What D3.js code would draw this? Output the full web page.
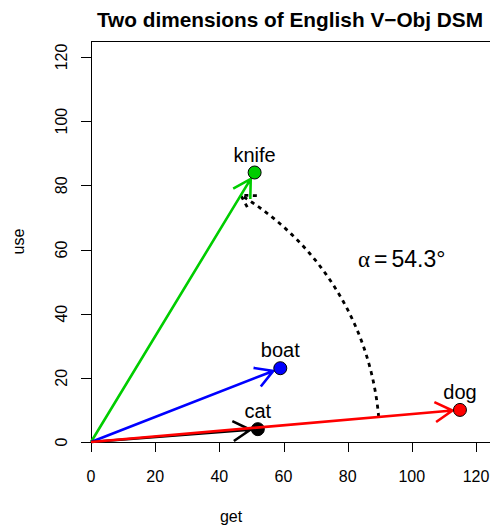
<!DOCTYPE html>
<html>
<head>
<meta charset="utf-8">
<script src="https://cdn.jsdelivr.net/npm/d3@7"></script>
<style>
  body { margin: 0; background: #fff; }
  svg { display: block; font-family: "Liberation Sans", Arial, Helvetica, sans-serif; }
</style>
</head>
<body>
<svg id="chart" width="490" height="528"></svg>
<script>
// word vectors: co-occurrence counts with "get" and "use"
const words = ["knife", "boat", "cat", "dog"];
const getCounts = [51, 59, 52, 115];
const useCounts = [84, 23, 4, 10];
const xTicks = [0, 20, 40, 60, 80, 100, 120];
const yTicks = [0, 20, 40, 60, 80, 100, 120];
const angleText = "54.3";
const arcRadius = 90; // in data units
const angleFrom = "dog", angleTo = "knife";

const wordColor = { knife: "#00CD00", boat: "#0000FF", cat: "#000000", dog: "#FF0000" };

const svg = d3.select("#chart");
const W = 490, H = 528;
const box = { left: 91, top: 41, bottom: 442 };

// equal aspect: same pixels per unit on both axes
const x = d3.scaleLinear().domain([0, 120]).range([91, 476]);
const y = d3.scaleLinear().domain([0, 120]).range([442, 57]);

// title
svg.append("text")
  .attr("x", 290).attr("y", 27)
  .attr("text-anchor", "middle")
  .attr("font-weight", "bold")
  .attr("font-size", 20.8)
  .text("Two dimensions of English V\u2212Obj DSM");

// plot box (right edge falls off the canvas)
svg.append("rect")
  .attr("x", box.left + 0.5).attr("y", box.top + 0.5)
  .attr("width", W + 20 - box.left).attr("height", box.bottom - box.top)
  .attr("fill", "none").attr("stroke", "#000").attr("stroke-width", 1);

// x axis
const xAxis = svg.append("g").attr("transform", `translate(0,${box.bottom})`);
xAxis.selectAll("line").data(xTicks).join("line")
  .attr("x1", d => Math.round(x(d)) + 0.5).attr("x2", d => Math.round(x(d)) + 0.5)
  .attr("y1", 0).attr("y2", 10)
  .attr("stroke", "#000");
xAxis.selectAll("text").data(xTicks).join("text")
  .attr("x", d => x(d)).attr("y", 40)
  .attr("text-anchor", "middle").attr("font-size", 16)
  .text(d => d);

// y axis
const yAxis = svg.append("g").attr("transform", `translate(${box.left},0)`);
yAxis.selectAll("line").data(yTicks).join("line")
  .attr("x1", -10).attr("x2", 0)
  .attr("y1", d => Math.round(y(d)) + 0.5).attr("y2", d => Math.round(y(d)) + 0.5)
  .attr("stroke", "#000");
yAxis.selectAll("text").data(yTicks).join("text")
  .attr("transform", d => `translate(-24,${y(d)}) rotate(-90)`)
  .attr("text-anchor", "middle").attr("font-size", 16)
  .text(d => d);

// axis titles
svg.append("text")
  .attr("x", 231).attr("y", 522)
  .attr("text-anchor", "middle").attr("font-size", 16)
  .text("get");
svg.append("text")
  .attr("transform", `translate(23.5,${(box.top + box.bottom) / 2}) rotate(-90)`)
  .attr("text-anchor", "middle").attr("font-size", 16)
  .text("use");

// open arrowhead helper
function headPath(tx, ty, ang, len, spread) {
  const a1 = ang + Math.PI - spread, a2 = ang + Math.PI + spread;
  return `M${tx + len * Math.cos(a1)},${ty + len * Math.sin(a1)}L${tx},${ty}L${tx + len * Math.cos(a2)},${ty + len * Math.sin(a2)}`;
}

const pts = words.map((w, i) => ({ word: w, g: getCounts[i], u: useCounts[i] }));

// dashed angle arc between dog and knife
const pFrom = pts.find(p => p.word === angleFrom), pTo = pts.find(p => p.word === angleTo);
const t0 = Math.atan2(pFrom.u, pFrom.g), t1 = Math.atan2(pTo.u, pTo.g);
const arcPts = d3.range(0, 61).map(k => {
  const t = t0 + (t1 - t0) * k / 60;
  return [x(arcRadius * Math.cos(t)), y(arcRadius * Math.sin(t))];
});
const arcG = svg.append("g")
  .attr("fill", "none").attr("stroke", "#000").attr("stroke-width", 2.8)
  .attr("stroke-dasharray", "4,4.5");
arcG.append("path").attr("d", d3.line()(arcPts));
{
  const a = arcPts[arcPts.length - 1], b = arcPts[arcPts.length - 2];
  const ang = Math.atan2(a[1] - b[1], a[0] - b[0]);
  arcG.append("path").attr("d", headPath(a[0], a[1], ang, 16, Math.PI / 6));
}

const lab = svg.append("text")
  .attr("x", 358).attr("y", 267)
  .attr("font-size", 23);
lab.append("tspan").attr("font-family", "'Liberation Serif', 'DejaVu Serif', serif").text("\u03B1");
lab.append("tspan").attr("dx", 4).text("=");
lab.append("tspan").attr("dx", 4).text(`${angleText}\u00B0`);

// vectors, points and labels (dog last so its arrow crosses the cat dot)
const order = ["knife", "boat", "cat", "dog"];
order.forEach(w => {
  const p = pts.find(q => q.word === w);
  const x0 = x(0), y0 = y(0), x1 = x(p.g), y1 = y(p.u);
  const ang = Math.atan2(y1 - y0, x1 - x0);
  const tx = x1 - 7.5 * Math.cos(ang), ty = y1 - 7.5 * Math.sin(ang);
  const g = svg.append("g");
  g.append("path")
    .attr("d", `M${x0},${y0}L${tx},${ty}` + headPath(tx, ty, ang, 20, Math.PI / 6))
    .attr("fill", "none").attr("stroke", wordColor[w]).attr("stroke-width", 2.6)
    .attr("stroke-linejoin", "miter");
  g.append("circle")
    .attr("cx", x1).attr("cy", y1).attr("r", 6.5)
    .attr("fill", wordColor[w]).attr("stroke", "#000").attr("stroke-width", 1);
  g.append("text")
    .attr("x", x1).attr("y", y1 - 11)
    .attr("text-anchor", "middle").attr("font-size", 20)
    .text(w);
});
</script>
</body>
</html>
